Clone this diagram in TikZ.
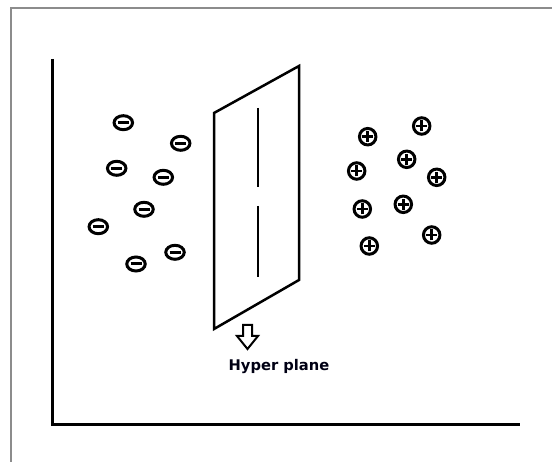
\documentclass[tikz,border=0pt]{standalone}
\usepackage{fontspec}
\newfontfamily\dv{DejaVu Sans}
\usetikzlibrary{shapes.geometric}
\begin{document}
\begin{tikzpicture}[x=1pt,y=-1pt,
  minus/.style={ellipse, draw, line width=3pt, minimum width=18.5pt, minimum height=14pt, inner sep=0pt,
    path picture={\draw[line width=3pt] ([xshift=-5.5pt]path picture bounding box.center) -- ([xshift=5.5pt]path picture bounding box.center);}},
  plus/.style={circle, draw, line width=3pt, minimum size=16.5pt, inner sep=0pt,
    path picture={\draw[line width=2.8pt] ([xshift=-5.5pt]path picture bounding box.center) -- ([xshift=5.5pt]path picture bounding box.center);
                  \draw[line width=2.8pt] ([yshift=-5.5pt]path picture bounding box.center) -- ([yshift=5.5pt]path picture bounding box.center);}},
  axis/.style={line width=3pt, line join=miter},
  planeline/.style={line width=2.5pt, line join=miter},
  frame/.style={draw=black!45, line width=1.5pt},
  label/.style={font=\dv\bfseries\fontsize{14.7}{17}\selectfont, text=black!92!blue, inner sep=0pt}
]
\useasboundingbox (0,0) rectangle (552,462);
\fill[white] (0,0) rectangle (552,462);
% outer frame
\draw[frame] (11,462) -- (11,8) -- (552,8);
% axes
\coordinate (ytop) at (52,59);
\coordinate (origin) at (52,425);
\coordinate (xend) at (520,425);
\draw[axis] (ytop) -- (origin) -- (xend);
% hyperplane
\coordinate (p1) at (214,113);
\coordinate (p2) at (299,66);
\coordinate (p3) at (299,280);
\coordinate (p4) at (214,329);
\draw[planeline] (p1) -- (p2) -- (p3) -- (p4) -- cycle;
\coordinate (l1a) at (258,108);
\coordinate (l1b) at (258,187);
\coordinate (l2a) at (258,206);
\coordinate (l2b) at (258,277);
\draw[line width=2.5pt] (l1a) -- (l1b);
\draw[line width=2.5pt] (l2a) -- (l2b);
% minus points
\node[minus] (m1) at (123.3,122.7) {};
\node[minus] (m2) at (180.7,143.3) {};
\node[minus] (m3) at (116.7,168.3) {};
\node[minus] (m4) at (163.3,177.3) {};
\node[minus] (m5) at (144,209.3) {};
\node[minus] (m6) at (98.3,226.7) {};
\node[minus] (m7) at (175,252.3) {};
\node[minus] (m8) at (136,264) {};
% plus points
\node[plus] (q1) at (421.7,126) {};
\node[plus] (q2) at (367.7,136.7) {};
\node[plus] (q3) at (406.7,159.3) {};
\node[plus] (q4) at (356.7,171) {};
\node[plus] (q5) at (436.7,177.3) {};
\node[plus] (q6) at (403.3,204.3) {};
\node[plus] (q7) at (362.3,209) {};
\node[plus] (q8) at (431.7,235) {};
\node[plus] (q9) at (369.3,246) {};
% hollow arrow
\draw[line width=2pt, line join=miter, fill=white]
  (243,325) -- (252,325) -- (252,336) -- (258,336) -- (247.5,349) -- (237,336) -- (243,336) -- cycle;
% label
\node[label] (lab) at (279,366.5) {Hyper plane};
\end{tikzpicture}
\end{document}
